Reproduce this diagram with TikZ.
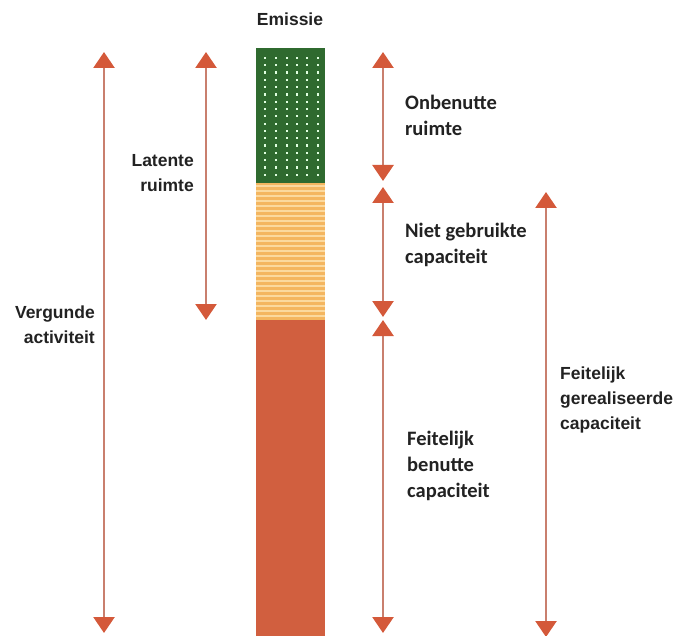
\documentclass[tikz,border=0pt]{standalone}
\usepackage{fontspec}
\setmainfont{Liberation Sans}
\newfontfamily\calfont{Carlito}
\usetikzlibrary{arrows.meta}
\definecolor{barGreen}{HTML}{2F6A2F}
\definecolor{barYellow}{HTML}{F4B660}
\definecolor{barStripe}{HTML}{FBD99E}
\definecolor{barRed}{HTML}{D15F3F}
\definecolor{arrHead}{HTML}{D4593A}
\definecolor{arrShaft}{HTML}{C97F6E}
\definecolor{txt}{HTML}{222222}
\begin{document}
\begin{tikzpicture}[
  x=1pt,y=-1pt,
  dim/.style={draw=arrShaft,line width=2.6pt,
    {Triangle[width=21pt,length=16pt,color=arrHead]}-{Triangle[width=21pt,length=16pt,color=arrHead]}},
  lbl/.style={text=txt,inner sep=0pt,font=\bfseries\fontsize{17.5}{25}\selectfont},
  clbl/.style={text=txt,inner sep=0pt,font=\calfont\bfseries\fontsize{20.5}{26}\selectfont,align=left,anchor=west}
]
  \useasboundingbox (0,0) rectangle (677,636);

  % the bar
  \fill[barGreen] (256,48) rectangle (325,183);
  \foreach \c in {265,276,287,297,307,318}
    \foreach \r in {0,...,16}
      \fill[green!12!white] (\c-1.1,58+\r*7.3-1.1) rectangle (\c+1.1,58+\r*7.3+1.1);
  \fill[barYellow] (256,183) rectangle (325,320);
  \foreach \r in {186,191,...,318}
    \draw[barStripe,line width=1.4pt] (256,\r) -- (325,\r);
  \fill[barRed] (256,320) rectangle (325,636);

  \node[lbl] (emis) at (290,19) {Emissie};

  % end points of the arrows
  \coordinate (vTop) at (104,52);
  \coordinate (vBot) at (104,633);
  \coordinate (lTop) at (206,52);
  \coordinate (lBot) at (206,320);
  \coordinate (oTop) at (383,52);
  \coordinate (oBot) at (383,181);
  \coordinate (nTop) at (383,187);
  \coordinate (nBot) at (383,317);
  \coordinate (bTop) at (383,320);
  \coordinate (bBot) at (383,633);
  \coordinate (gTop) at (546,192);
  \coordinate (gBot) at (546,637);

  \draw[dim] (vTop) -- (vBot);
  \draw[dim] (lTop) -- (lBot);
  \draw[dim] (oTop) -- (oBot);
  \draw[dim] (nTop) -- (nBot);
  \draw[dim] (bTop) -- (bBot);
  \draw[dim] (gTop) -- (gBot);

  \node[lbl,align=right,anchor=east] (verg) at (95,325) {Vergunde\\activiteit};
  \node[lbl,align=right,anchor=east] (lat) at (194,173) {Latente\\ruimte};
  \node[clbl] (onb) at (405,115) {Onbenutte\\ruimte};
  \node[clbl] (niet) at (405,245) {Niet gebruikte\\capaciteit};
  \node[clbl] (benut) at (407,466) {Feitelijk\\benutte\\capaciteit};
  \node[lbl,align=left,anchor=west] (real) at (560,400) {Feitelijk\\gerealiseerde\\capaciteit};
\end{tikzpicture}
\end{document}
